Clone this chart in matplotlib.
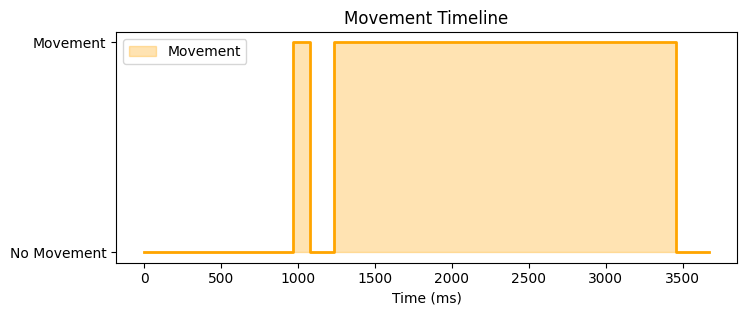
import matplotlib
matplotlib.use("Agg")
import matplotlib.pyplot as plt

times = [0, 968, 1077, 1235, 3457, 3670]
movement = [0, 1, 0, 1, 0, 0]
ytick_labels = ["No Movement", "Movement"]

fig = plt.figure(figsize=(7.46, 3.16), dpi=100)
ax = fig.add_axes([116/746, 1 - 262.5/316, (737-116)/746, (262.5-32)/316])
ax.fill_between(times, movement, step="post", color="orange", alpha=0.3, label="Movement")
ax.step(times, movement, where="post", color="orange", linewidth=2)
ax.set_yticks([0, 1])
ax.set_yticklabels(ytick_labels)
ax.set_xlabel("Time (ms)")
ax.set_title("Movement Timeline")
ax.legend(loc="upper left")
fig.savefig("out.png", dpi=100)
